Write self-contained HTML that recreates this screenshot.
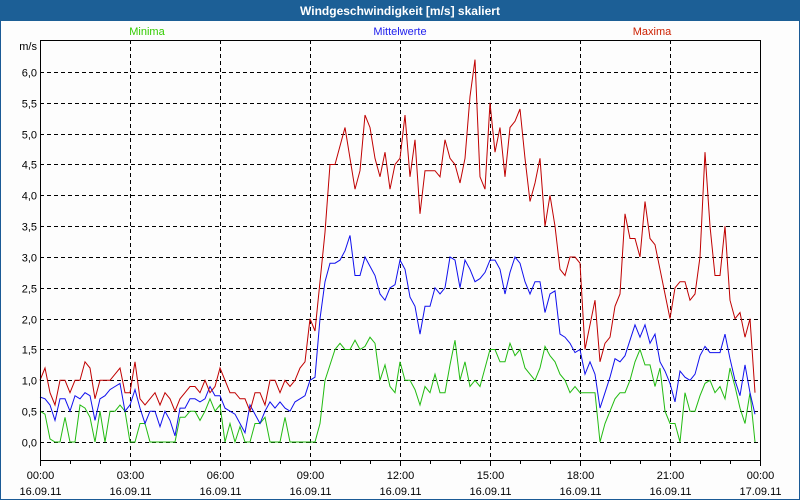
<!DOCTYPE html>
<html><head><meta charset="utf-8"><style>
html,body{margin:0;padding:0;background:#fff}
svg{display:block;font-family:"Liberation Sans",Tahoma,sans-serif}
</style></head><body>
<svg id="c" width="800" height="500" xmlns="http://www.w3.org/2000/svg">
<rect x="0.5" y="0.5" width="799" height="499" fill="#fdfdfd" stroke="#1b5a96"/>
<rect x="0" y="0" width="800" height="21" fill="#1c5f96"/>
<text x="400" y="15" text-anchor="middle" fill="#fff" font-weight="bold" font-size="12">Windgeschwindigkeit [m/s] skaliert</text>
<text x="147" y="35" text-anchor="middle" fill="#33cc00" font-size="11">Minima</text>
<text x="400" y="35" text-anchor="middle" fill="#2020ee" font-size="11">Mittelwerte</text>
<text x="652" y="35" text-anchor="middle" fill="#cc2000" font-size="11">Maxima</text>
<text x="37" y="50" text-anchor="end" font-size="11" fill="#000">m/s</text>
<g id="grid"></g>
<g id="series"></g>
<rect x="40.5" y="40.5" width="720" height="420" fill="none" stroke="#000"/>
<g id="axes"></g>
</svg>
<script>
const yTicks=[0,0.5,1,1.5,2,2.5,3,3.5,4,4.5,5,5.5,6];
const xTickHours=[0,3,6,9,12,15,18,21,24];
const xTimeLabels=["00:00","03:00","06:00","09:00","12:00","15:00","18:00","21:00","00:00"];
const xDateLabels=["16.09.11","16.09.11","16.09.11","16.09.11","16.09.11","16.09.11","16.09.11","16.09.11","17.09.11"];
const maxima=[1.0,1.2,0.8,0.6,1.0,1.0, 0.8,1.0,1.0,1.3,1.2,0.7, 1.0,1.0,1.0,1.1,1.2,0.8, 0.8,1.3,0.7,0.6,0.7,0.8, 0.6,0.8,0.7,0.5,0.7,0.8, 0.9,0.9,0.8,1.0,0.8,0.9, 1.2,1.0,0.8,0.8,0.7,0.7, 0.5,0.8,0.8,0.6,1.0,1.0, 0.8,1.0,0.9,1.0,1.2,1.3, 2.0,1.8,2.6,3.4,4.5,4.5, 4.8,5.1,4.6,4.1,4.4,5.3, 5.1,4.6,4.3,4.7,4.1,4.5, 4.6,5.3,4.3,4.9,3.7,4.4, 4.4,4.4,4.3,4.9,4.6,4.5, 4.2,4.6,5.6,6.2,4.3,4.1, 5.5,4.7,5.1,4.3,5.1,5.2, 5.4,4.6,3.9,4.2,4.6,3.5, 4.0,3.5,2.8,2.7,3.0,3.0, 2.9,1.5,1.9,2.3,1.3,1.6, 1.7,2.2,2.4,3.7,3.3,3.3, 3.0,3.9,3.3,3.2,2.8,2.4, 2.0,2.5,2.6,2.6,2.3,2.4, 3.0,4.7,3.5,2.7,2.7,3.5, 2.3,2.0,2.1,1.7,2.0,0.8];
const mittelwerte=[0.73,0.7,0.6,0.35,0.7,0.7, 0.5,0.75,0.7,0.8,0.75,0.35, 0.7,0.75,0.85,0.9,0.95,0.5, 0.6,0.85,0.55,0.3,0.5,0.5, 0.25,0.5,0.35,0.1,0.55,0.55, 0.7,0.7,0.65,0.7,0.9,0.75, 0.75,0.55,0.5,0.45,0.3,0.15, 0.6,0.45,0.3,0.5,0.65,0.55, 0.65,0.55,0.5,0.65,0.7,0.75, 1.0,1.05,2.0,2.6,2.9,2.9, 2.95,3.1,3.35,2.7,2.7,3.0, 2.85,2.7,2.4,2.3,2.5,2.55, 2.95,2.8,2.35,2.2,1.75,2.2, 2.2,2.5,2.4,2.5,3.0,2.95, 2.5,2.95,2.8,2.6,2.65,2.75, 2.95,2.95,2.8,2.4,2.75,3.0, 2.9,2.6,2.4,2.6,2.6,2.1, 2.4,2.45,1.75,1.7,1.6,1.45, 1.5,1.1,1.3,1.1,0.55,0.8, 1.05,1.35,1.3,1.4,1.65,1.9, 1.7,1.9,1.6,1.75,1.3,1.15, 0.95,0.65,1.15,1.05,1.0,1.1, 1.4,1.55,1.45,1.45,1.45,1.75, 1.35,1.0,0.75,1.25,0.8,0.45];
const minima=[0.5,0.45,0.05,0,0,0.4, 0,0,0.6,0.55,0.4,0, 0.5,0,0.5,0.5,0.6,0.5, 0,0,0.3,0.3,0,0, 0,0,0,0,0.4,0.4, 0.5,0.5,0.35,0.5,0.7,0.5, 0.6,0,0.3,0,0.25,0, 0,0.3,0.3,0.4,0,0, 0,0.4,0,0,0,0, 0,0,0.3,1.0,1.25,1.5, 1.6,1.5,1.5,1.65,1.5,1.55, 1.7,1.6,1.0,1.25,0.9,0.8, 1.3,1.0,1.0,0.85,0.6,0.9, 0.8,1.1,0.8,0.8,1.25,1.65, 1.0,1.3,0.9,1.0,0.9,1.2, 1.5,1.5,1.3,1.3,1.6,1.4, 1.5,1.2,1.1,1.0,1.2,1.55, 1.4,1.3,1.1,1.0,0.8,0.9, 0.8,0.8,0.8,0.8,0,0.3, 0.5,0.7,0.8,0.8,1.0,1.3, 1.5,1.25,1.25,0.9,1.2,0.5, 0.3,0.3,0,0.8,0.5,0.5, 0.75,0.95,1.0,0.8,0.9,0.7, 1.2,0.9,0.55,0.3,0.8,0];

const NS="http://www.w3.org/2000/svg";
const X0=40,X1=760,Y0=442,PerUnit=61.67;
function xH(h){return X0+h*(X1-X0)/24;}
function xI(i){return xH(i/6);}
function yV(v){return Y0-v*PerUnit;}
function mk(tag,attrs,parent){const e=document.createElementNS(NS,tag);for(const k in attrs)e.setAttribute(k,attrs[k]);parent.appendChild(e);return e;}
const grid=document.getElementById('grid'),axes=document.getElementById('axes'),series=document.getElementById('series');
yTicks.forEach(v=>{
  const y=Math.round(yV(v))+0.5;
  const l=mk('line',{x1:X0,x2:X1,y1:y,y2:y,stroke:'#000','stroke-dasharray':'4,3'},grid);
  
  
  const t=mk('text',{x:37,y:y+4,'text-anchor':'end','font-size':'11',fill:'#000'},axes);
  t.textContent=v.toFixed(1).replace('.',',');
  
  
});
xTickHours.forEach((h,i)=>{
  const x=Math.round(xH(h))+0.5;
  if(h>0&&h<24){
    const l=mk('line',{x1:x,x2:x,y1:40,y2:460,stroke:'#000','stroke-dasharray':'4,3'},grid);
    
    
  }
  const t=mk('text',{x:x,y:479,'text-anchor':'middle','font-size':'11',fill:'#000'},axes);
  t.textContent=xTimeLabels[i];
  
  
  const d=mk('text',{x:x,y:495,'text-anchor':'middle','font-size':'11',fill:'#000'},axes);
  d.textContent=xDateLabels[i];
  
  
});
for(let h=0;h<=24;h++){
  const x=Math.round(xH(h))+0.5;
  const l=mk('line',{x1:x,x2:x,y1:460,y2:h%3===0?466:464,stroke:'#000'},axes);
  
  
}
function line(data,color,name){
  const pts=data.map((v,i)=>xI(i).toFixed(1)+','+yV(v).toFixed(1)).join(' ');
  const p=mk('polyline',{points:pts,fill:'none',stroke:color,'stroke-width':'1'},series);
  
  
}
line(minima,'#22bb11','series-minima');
line(mittelwerte,'#1010ee','series-mittelwerte');
line(maxima,'#c00000','series-maxima');
</script>
</body></html>
